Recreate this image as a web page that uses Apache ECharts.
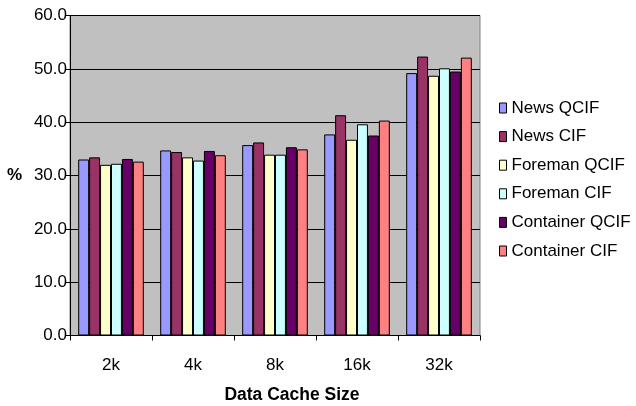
<!DOCTYPE html>
<html><head><meta charset="utf-8">
<script src="https://cdn.jsdelivr.net/npm/echarts@6/dist/echarts.min.js"></script>
<style>html,body{margin:0;padding:0;background:#fff}#c{width:636px;height:406px}</style>
</head><body><div id="c"></div>
<script>
const categories = ['2k','4k','8k','16k','32k'];
const newsQCIF = [33.0, 34.7, 35.7, 37.7, 49.2];
const newsCIF = [33.4, 34.4, 36.2, 41.3, 52.3];
const foremanQCIF = [32.0, 33.4, 33.9, 36.7, 48.7];
const foremanCIF = [32.2, 32.8, 33.9, 39.6, 50.1];
const containerQCIF = [33.1, 34.6, 35.3, 37.5, 49.5];
const containerCIF = [32.6, 33.8, 34.9, 40.3, 52.1];
const seriesNames = ['News QCIF','News CIF','Foreman QCIF','Foreman CIF','Container QCIF','Container CIF'];
const seriesValues = [newsQCIF, newsCIF, foremanQCIF, foremanCIF, containerQCIF, containerCIF];
const colors = ['#9999FF','#993366','#FFFFCC','#CCFFFF','#660066','#FF8080'];

const chart = echarts.init(document.getElementById('c'), null, {renderer:'canvas'});
const font = 'Liberation Sans, Arial, sans-serif';
chart.setOption({
  animation: false,
  textStyle: {fontFamily: font},
  grid: {left: 70, right: 156, top: 15.5, bottom: 70.5, show: true, backgroundColor: '#C0C0C0', borderColor: '#808080', borderWidth: 1},
  legend: {
    orient: 'vertical', left: 494, top: 94.5,
    itemWidth: 7, itemHeight: 10, itemGap: 11.6,
    textStyle: {fontFamily: font, fontSize: 17, color: '#000', lineHeight: 17},
    data: seriesNames.map(n => ({name: n, icon: 'rect', itemStyle: {borderColor: '#000', borderWidth: 1}}))
  },
  xAxis: {
    type: 'category', data: categories,
    axisLine: {lineStyle: {color: '#000', width: 1}},
    axisTick: {show: true, length: 5, lineStyle: {color: '#000'}},
    axisLabel: {color: '#000', fontSize: 17, margin: 21, fontFamily: font}
  },
  yAxis: {
    type: 'value', min: 0, max: 60, interval: 10,
    name: '%', nameLocation: 'middle', nameRotate: 0, nameGap: 48,
    nameTextStyle: {fontWeight: 'bold', fontSize: 17, color: '#000', fontFamily: font},
    axisLine: {show: true, lineStyle: {color: '#000', width: 1}},
    axisTick: {show: true, length: 4, lineStyle: {color: '#000'}},
    axisLabel: {color: '#000', fontSize: 17, margin: 3, fontFamily: font, formatter: v => v.toFixed(1)},
    splitLine: {lineStyle: {color: '#000', width: 1}}
  },
  graphic: [{
    type: 'text', x: 292, y: 395,
    style: {text: 'Data Cache Size', font: 'bold 17.5px Liberation Sans, Arial, sans-serif', fill: '#000', align: 'center', verticalAlign: 'middle'}
  }],
  series: seriesNames.map((n, i) => ({
    name: n, type: 'bar', data: seriesValues[i],
    barGap: '0%', barCategoryGap: '20%',
    itemStyle: {color: colors[i], borderColor: '#000', borderWidth: 1}
  }))
});
</script></body></html>
